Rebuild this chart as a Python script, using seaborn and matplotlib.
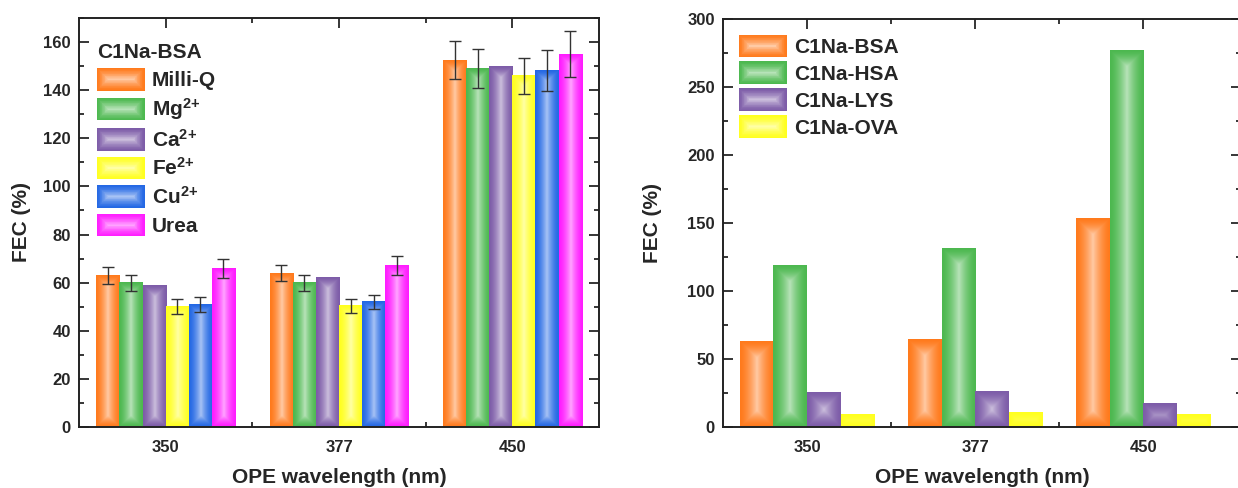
import numpy as np
import pandas as pd
import matplotlib
matplotlib.use('Agg')
import matplotlib.pyplot as plt
import seaborn as sns
from matplotlib.patches import Rectangle, Patch
from matplotlib.legend_handler import HandlerBase
from matplotlib.colors import to_rgb
from matplotlib.ticker import AutoMinorLocator, FixedLocator

# data
wavelengths = ['350', '377', '450']

conditions = ['Milli-Q', 'Mg$^{2{+}}$', 'Ca$^{2{+}}$', 'Fe$^{2{+}}$', 'Cu$^{2{+}}$', 'Urea']
milliq = [63.0, 64.0, 152.5]
mg = [60.0, 60.0, 149.0]
ca = [59.0, 62.0, 150.0]
fe = [50.0, 50.3, 146.0]
cu = [51.0, 52.0, 148.0]
urea = [66.0, 67.2, 155.0]
milliq_err = [3.5, 3.5, 8.0]
mg_err = [3.3, 3.3, 8.0]
ca_err = [np.nan, np.nan, np.nan]
fe_err = [3.0, 3.0, 7.5]
cu_err = [3.0, 3.0, 8.5]
urea_err = [4.0, 4.0, 9.5]

proteins = ['C1Na-BSA', 'C1Na-HSA', 'C1Na-LYS', 'C1Na-OVA']
bsa = [63.0, 64.0, 153.0]
hsa = [119.0, 131.5, 276.5]
lys = [25.5, 26.0, 17.5]
ova = [9.0, 10.3, 9.0]

left_colors = ['#ff7a1c', '#4cb84f', '#7d5ca8', '#ffff1f', '#2468e4', '#ff1cff']
right_colors = left_colors[:4]

sns.set_style('ticks')
plt.rcParams['font.family'] = ['Liberation Sans', 'DejaVu Sans']
plt.rcParams['font.weight'] = 'bold'
plt.rcParams['axes.labelweight'] = 'bold'
plt.rcParams['mathtext.fontset'] = 'custom'
plt.rcParams['mathtext.rm'] = 'Liberation Sans:bold'
plt.rcParams['mathtext.bf'] = 'Liberation Sans:bold'
plt.rcParams['mathtext.it'] = 'Liberation Sans:bold'


def mix_white(c, f):
    rgb = np.array(to_rgb(c))
    return tuple(rgb * (1 - f) + f)


def shade(ax, patch, color):
    # origin-like bevel gradient: saturated edges, light centre
    x0, y0 = patch.get_x(), patch.get_y()
    w, h = patch.get_width(), patch.get_height()
    (px0, py0), (px1, py1) = ax.transData.transform([(x0, y0), (x0 + w, y0 + h)])
    nx = max(int(abs(px1 - px0)), 2)
    ny = max(int(abs(py1 - py0)), 2)
    xx = np.arange(nx) + 0.5
    yy = np.arange(ny) + 0.5
    dx = np.minimum(xx, nx - xx)[None, :]
    dy = np.minimum(yy, ny - yy)[:, None]
    d = np.clip(np.minimum(dx, dy) / (nx / 2), 0, 1)
    t = d ** 1.6 * 0.6
    rgb = np.array(to_rgb(color))
    img = rgb * (1 - t[..., None]) + t[..., None]
    ax.imshow(img, extent=(x0, x0 + w, y0, y0 + h), aspect='auto',
              interpolation='bilinear', origin='lower', zorder=patch.get_zorder() + 0.1)


class GradHandler(HandlerBase):
    def create_artists(self, legend, orig_handle, xdescent, ydescent,
                       width, height, fontsize, trans):
        c = orig_handle.get_facecolor()
        arts = []
        n = 16
        for k in range(n):
            f = k / (n - 1)
            inset = f * min(width, height) / 2 * 0.95
            r = Rectangle((-xdescent + inset, -ydescent + inset),
                          width - 2 * inset, height - 2 * inset,
                          facecolor=mix_white(c, f ** 1.4 * 0.6), lw=0, transform=trans)
            arts.append(r)
        return arts


def style_axes(ax, ylim, major, xmax):
    ax.set_xlim(-0.5, xmax)
    ax.set_ylim(0, ylim)
    ax.set_yticks(np.arange(0, ylim + 1, major))
    ax.yaxis.set_minor_locator(AutoMinorLocator(2))
    ax.xaxis.set_minor_locator(FixedLocator([0.5, 1.5]))
    ax.tick_params(which='both', direction='in', top=True, right=True, width=1.3,
                   labelsize=12)
    ax.tick_params(which='major', length=7)
    ax.tick_params(which='minor', length=3.5)
    ax.tick_params(axis='x', pad=9)
    ax.tick_params(axis='y', pad=6)
    for s in ax.spines.values():
        s.set_linewidth(1.4)
        s.set_color('#222222')
    for lab in ax.get_xticklabels() + ax.get_yticklabels():
        lab.set_fontweight('bold')


fig = plt.figure(figsize=(12.38, 4.88), dpi=100)
ax1 = fig.add_axes([79 / 1238, 61 / 488, 520 / 1238, 409 / 488])
ax2 = fig.add_axes([723 / 1238, 61 / 488, 518 / 1238, 408 / 488])

# left panel
left_vals = [milliq, mg, ca, fe, cu, urea]
left_errs = [milliq_err, mg_err, ca_err, fe_err, cu_err, urea_err]
df1 = pd.DataFrame({
    'wavelength': wavelengths * len(conditions),
    'condition': [c for c in conditions for _ in wavelengths],
    'FEC': [v for vals in left_vals for v in vals],
})
sns.barplot(data=df1, x='wavelength', y='FEC', hue='condition', palette=left_colors,
            width=0.8, saturation=1, linewidth=0, legend=False, ax=ax1)
style_axes(ax1, 170, 20, 2.5)
for cont, col, errs in zip(ax1.containers, left_colors, left_errs):
    xs, hs, es = [], [], []
    for p, e in zip(cont.patches, errs):
        shade(ax1, p, col)
        if not np.isnan(e):
            xs.append(p.get_x() + p.get_width() / 2)
            hs.append(p.get_height())
            es.append(e)
    ax1.errorbar(xs, hs, yerr=es, fmt='none', ecolor='#333333', elinewidth=1,
                 capsize=4, capthick=1, zorder=10)
style_axes(ax1, 170, 20, 2.5)
ax1.set_xlabel('OPE wavelength (nm)', fontsize=15, fontweight='bold', labelpad=10)
ax1.set_ylabel('FEC (%)', fontsize=15, fontweight='bold', labelpad=9)
h1 = [Patch(facecolor=c) for c in left_colors]
leg1 = ax1.legend(h1, conditions, title='C1Na-BSA', loc='upper left',
                  bbox_to_anchor=(-0.014, 1), borderaxespad=0.3, borderpad=0.9,
                  frameon=False, fontsize=15, title_fontsize=15, handlelength=2.3,
                  handleheight=1.3, handletextpad=0.35, labelspacing=0.28,
                  alignment='left', handler_map={Patch: GradHandler()})
leg1.get_title().set_fontweight('bold')

# right panel
right_vals = [bsa, hsa, lys, ova]
df2 = pd.DataFrame({
    'wavelength': wavelengths * len(proteins),
    'protein': [p for p in proteins for _ in wavelengths],
    'FEC': [v for vals in right_vals for v in vals],
})
sns.barplot(data=df2, x='wavelength', y='FEC', hue='protein', palette=right_colors,
            width=0.8, saturation=1, linewidth=0, legend=False, ax=ax2)
style_axes(ax2, 300, 50, 2.58)
for cont, col in zip(ax2.containers, right_colors):
    for p in cont.patches:
        shade(ax2, p, col)
style_axes(ax2, 300, 50, 2.58)
ax2.set_xlabel('OPE wavelength (nm)', fontsize=15, fontweight='bold', labelpad=10)
ax2.set_ylabel('FEC (%)', fontsize=15, fontweight='bold', labelpad=18)
h2 = [Patch(facecolor=c) for c in right_colors]
ax2.legend(h2, proteins, loc='upper left', bbox_to_anchor=(0, 1),
           borderaxespad=0.3, borderpad=0.45, frameon=False, fontsize=15,
           handlelength=2.3, handleheight=1.3, handletextpad=0.35,
           labelspacing=0.2, handler_map={Patch: GradHandler()})

fig.savefig('out.png', dpi=100)
